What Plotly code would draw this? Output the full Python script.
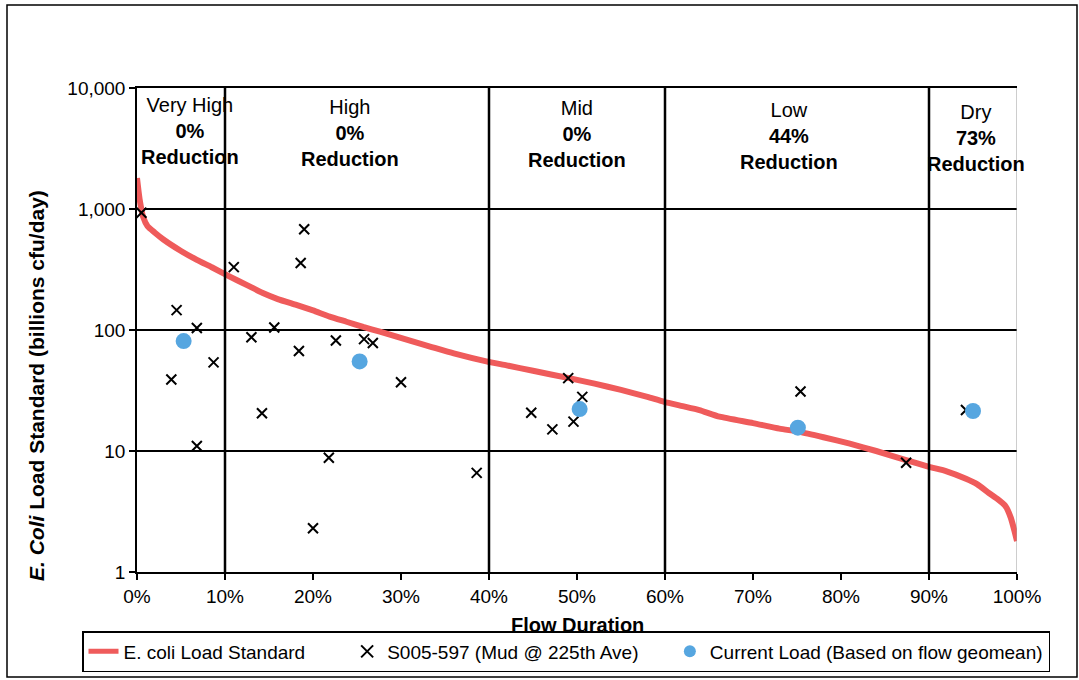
import plotly.graph_objects as go

# Load duration curve (percent of time flow is exceeded vs allowable load)
flow_pct = [0.0, 0.3, 0.7, 1.2, 2.0, 3.0, 5.0, 6.8, 8.5, 10.6, 12.5, 14.3, 16.0,
            18.1, 20.0, 21.9, 23.8, 25.7, 27.6, 29.5, 31.4, 33.3, 36.0, 39.7,
            42.0, 45.0, 49.1, 52.0, 55.0, 58.0, 59.9, 62.0, 63.9, 66.2, 70.0,
            73.0, 75.3, 78.0, 81.0, 84.0, 87.4, 90.0, 92.0, 94.2, 95.5, 96.8,
            97.8, 98.7, 99.3, 99.7, 100.0]
load_standard = [1800, 1200, 860, 720, 640, 560, 450, 380, 330, 275, 235, 202, 180,
                 161, 145, 129, 117, 106, 97, 88, 80, 73, 64, 55,
                 51, 46, 40, 36, 32, 28, 25.5, 23.5, 21.8, 19.2, 17.0,
                 15.3, 14.4, 13.0, 11.5, 10.0, 8.4, 7.4, 6.8, 5.9, 5.3, 4.5,
                 4.0, 3.5, 2.8, 2.2, 1.8]

# Monitoring samples at S005-597
sample_pct = [0.5, 4.5, 3.9, 6.8, 6.8, 8.7, 11.0, 13.0, 14.2, 15.6, 19.0, 18.6,
              18.4, 22.6, 21.8, 20.0, 25.8, 26.8, 30.0, 38.6, 44.8, 47.2, 49.6,
              49.0, 50.6, 75.4, 87.4, 94.2]
sample_load = [930, 146, 39, 104, 11, 54, 331, 87, 20.5, 105, 680, 358,
               67, 82, 8.8, 2.3, 84, 78, 37, 6.6, 20.7, 15.1, 17.5,
               40, 28, 31, 8.0, 21.8]

# Current load per flow zone (flow-weighted geomean)
current_pct = [5.3, 25.3, 50.3, 75.1, 95.0]
current_load = [81, 55, 22.2, 15.6, 21.4]

# Flow zones
zone_breaks = [10, 40, 60, 90]
zone_centers = [6.0, 24.2, 50.0, 74.1, 95.3]
zone_names = ["Very High", "High", "Mid", "Low", "Dry"]
zone_reduction = ["0%", "0%", "0%", "44%", "73%"]
zone_label_top_px = [92, 94, 95, 97, 99]

x_ticks = [0, 10, 20, 30, 40, 50, 60, 70, 80, 90, 100]
x_tick_text = ["0%", "10%", "20%", "30%", "40%", "50%", "60%", "70%", "80%", "90%", "100%"]
y_ticks = [1, 10, 100, 1000, 10000]
y_tick_text = ["1", "10", "100", "1,000", "10,000"]

FONT = "Liberation Sans, Arial, sans-serif"
W, H = 1079, 680
M_L, M_R, M_T, M_B = 137, 62, 88, 108
PLOT_H = H - M_T - M_B
PLOT_W = W - M_L - M_R
NBSP = "\u00a0"


def py(px):
    """Pixel row -> paper y."""
    return (H - M_B - px) / PLOT_H


def px_x(px):
    """Pixel column -> paper x."""
    return (px - M_L) / PLOT_W


fig = go.Figure()

fig.add_trace(go.Scatter(
    x=flow_pct, y=load_standard, mode="lines",
    name="E. coli Load Standard" + NBSP * 7,
    line=dict(color="#EF5B5B", width=6, shape="spline", smoothing=0.5),
))
fig.add_trace(go.Scatter(
    x=sample_pct, y=sample_load, mode="markers",
    name="S005-597 (Mud @ 225th Ave)" + NBSP * 5,
    marker=dict(symbol="x-thin", size=10, line=dict(color="black", width=2), color="black"),
))
fig.add_trace(go.Scatter(
    x=current_pct, y=current_load, mode="markers",
    name="Current Load (Based on flow geomean)",
    marker=dict(symbol="circle", size=16, color="#56A6E0"),
))

shapes = []
for b in zone_breaks:
    shapes.append(dict(type="line", xref="x", yref="paper", x0=b, x1=b, y0=0, y1=1,
                       line=dict(color="black", width=2.5)))
# right edge of the plot box
shapes.append(dict(type="line", xref="x", yref="paper", x0=100, x1=100, y0=0, y1=1,
                   line=dict(color="#9a9a9a", width=1)))
# outer chart frame
shapes.append(dict(type="rect", xref="paper", yref="paper",
                   x0=px_x(7), x1=px_x(1077), y0=py(677), y1=py(5),
                   line=dict(color="black", width=1.5)))

annotations = []
for name, red, cx, top in zip(zone_names, zone_reduction, zone_centers, zone_label_top_px):
    annotations.append(dict(
        x=cx, xref="x", y=py(top), yref="paper", xanchor="center", yanchor="top",
        text=f"{name}<br><b>{red}</b><br><b>Reduction</b>", showarrow=False,
        font=dict(family=FONT, size=20, color="black"), align="center",
    ))

annotations.append(dict(
    x=px_x(36), xref="paper", y=py(386), yref="paper", xanchor="center", yanchor="middle",
    text="<b><i>E. Coli</i> Load Standard (billions cfu/day)</b>", textangle=-90,
    showarrow=False, font=dict(family=FONT, size=21, color="black"),
))
annotations.append(dict(
    x=50, xref="x", y=py(625), yref="paper", xanchor="center", yanchor="middle",
    text="<b>Flow Duration</b>", showarrow=False,
    font=dict(family=FONT, size=20, color="black"),
))

fig.update_layout(
    width=W, height=H,
    margin=dict(l=M_L, r=M_R, t=M_T, b=M_B, autoexpand=False),
    paper_bgcolor="white", plot_bgcolor="white",
    font=dict(family=FONT, size=18, color="black"),
    shapes=shapes, annotations=annotations,
    showlegend=True,
    legend=dict(
        orientation="h", x=px_x(82), xanchor="left", y=py(631), yanchor="top",
        bordercolor="black", borderwidth=1.5, bgcolor="white",
        font=dict(family=FONT, size=19, color="black"),
        itemsizing="constant",
    ),
    xaxis=dict(
        range=[0, 100], tickvals=x_ticks, ticktext=x_tick_text,
        showgrid=False, zeroline=False,
        showline=True, linecolor="black", linewidth=1.5, mirror=True,
        ticks="outside", ticklen=6, tickcolor="black", tickwidth=1.5,
        tickfont=dict(family=FONT, size=19, color="black"),
    ),
    yaxis=dict(
        type="log", range=[0, 4], tickvals=y_ticks, ticktext=y_tick_text,
        showgrid=True, gridcolor="black", gridwidth=1.5, zeroline=False,
        showline=True, linecolor="black", linewidth=1.5,
        ticks="outside", ticklen=6, tickcolor="black", tickwidth=1.5,
        tickfont=dict(family=FONT, size=19, color="black"),
    ),
)

fig.write_html("out.html")
